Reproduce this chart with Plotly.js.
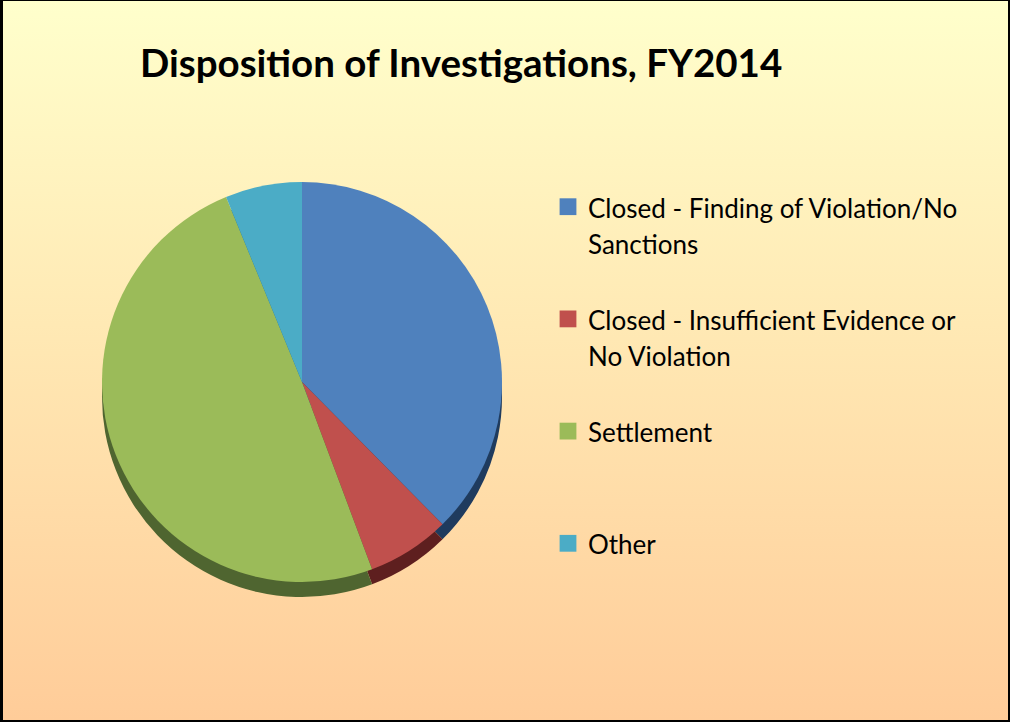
<!DOCTYPE html>
<html>
<head>
<meta charset="utf-8">
<script src="https://cdn.plot.ly/plotly-3.0.1.min.js"></script>
<style>
  html, body { margin: 0; padding: 0; width: 1010px; height: 723px; overflow: hidden; background: #ffffff; }
  #bg { position: absolute; left: 0; top: 0; width: 1010px; height: 722px; box-sizing: border-box;
        border-left: 3px solid #000; border-top: 1px solid #000; border-right: 2px solid #000; border-bottom: 2px solid #000;
        background: linear-gradient(to bottom, #FFFFCC 0%, #FFE9B4 45%, #FFCC99 100%); }
  #chart { position: absolute; left: 0; top: 0; width: 1010px; height: 723px; }
  .legendpie { transform: translate(20px, 0px) scale(1.4); }
</style>
</head>
<body>
<div id="bg"></div>
<div id="chart"></div>
<script>
// Data (percent of investigations)
var categories = [
  "Closed - Finding of Violation/No Sanctions",
  "Closed - Insufficient Evidence or No Violation",
  "Settlement",
  "Other"
];
var legendLines = [
  ["Closed - Finding of Violation/No", "Sanctions", "\u00a0"],
  ["Closed - Insufficient Evidence or", "No Violation", "\u00a0"],
  ["Settlement", "\u00a0", "\u00a0"],
  ["Other"]
];
var shares = [37.6, 6.7, 49.5, 6.2];
var sliceColors = ["#4F81BD", "#C0504D", "#9BBB59", "#4BACC6"];
var rimColors = ["#1F3B5E", "#5E1F1F", "#4F6530", "#2A6A7C"];

var legendLabels = legendLines.map(function (lines) {
  return lines.map(function (l) { return '<span style="font-size:26px">' + l + '</span>'; }).join('<br>');
});

var W = 1010, H = 723;
var cx = 302, cy = 382, r = 200, depth = 15;

function dom(centerY) {
  return {
    x: [(cx - r) / W, (cx + r) / W],
    y: [1 - (centerY + r) / H, 1 - (centerY - r) / H]
  };
}

var rimPie = {
  type: 'pie',
  values: shares,
  labels: legendLabels,
  sort: false,
  direction: 'clockwise',
  rotation: 0,
  textinfo: 'none',
  hoverinfo: 'skip',
  showlegend: false,
  marker: { colors: rimColors, line: { width: 0 } },
  domain: dom(cy + depth)
};

var facePie = {
  type: 'pie',
  values: shares,
  labels: legendLabels,
  sort: false,
  direction: 'clockwise',
  rotation: 0,
  textinfo: 'none',
  hovertext: categories,
  hoverinfo: 'text+percent',
  marker: { colors: sliceColors, line: { width: 0 } },
  domain: dom(cy)
};

var layout = {
  width: W,
  height: H,
  margin: { l: 0, r: 0, t: 0, b: 0 },
  paper_bgcolor: 'rgba(0,0,0,0)',
  plot_bgcolor: 'rgba(0,0,0,0)',
  font: { family: 'Lato, "Open Sans", sans-serif', color: '#000000' },
  title: {
    text: '<b>Disposition of Investigations, FY2014</b>',
    font: { family: 'Lato, "Open Sans", sans-serif', size: 38.5, color: '#000000' },
    x: 140 / W,
    xanchor: 'left',
    xref: 'paper',
    y: 1 - 64 / H,
    yref: 'container',
    yanchor: 'middle'
  },
  legend: {
    x: 548 / W,
    xanchor: 'left',
    y: 1 - 182 / H,
    yanchor: 'top',
    valign: 'top',
    font: { family: 'Lato, "Open Sans", sans-serif', size: 28, color: '#000000' },
    bgcolor: 'rgba(0,0,0,0)',
    traceorder: 'normal'
  },
  showlegend: true
};

Plotly.newPlot('chart', [rimPie, facePie], layout, { displayModeBar: false, staticPlot: true });
</script>
</body>
</html>
